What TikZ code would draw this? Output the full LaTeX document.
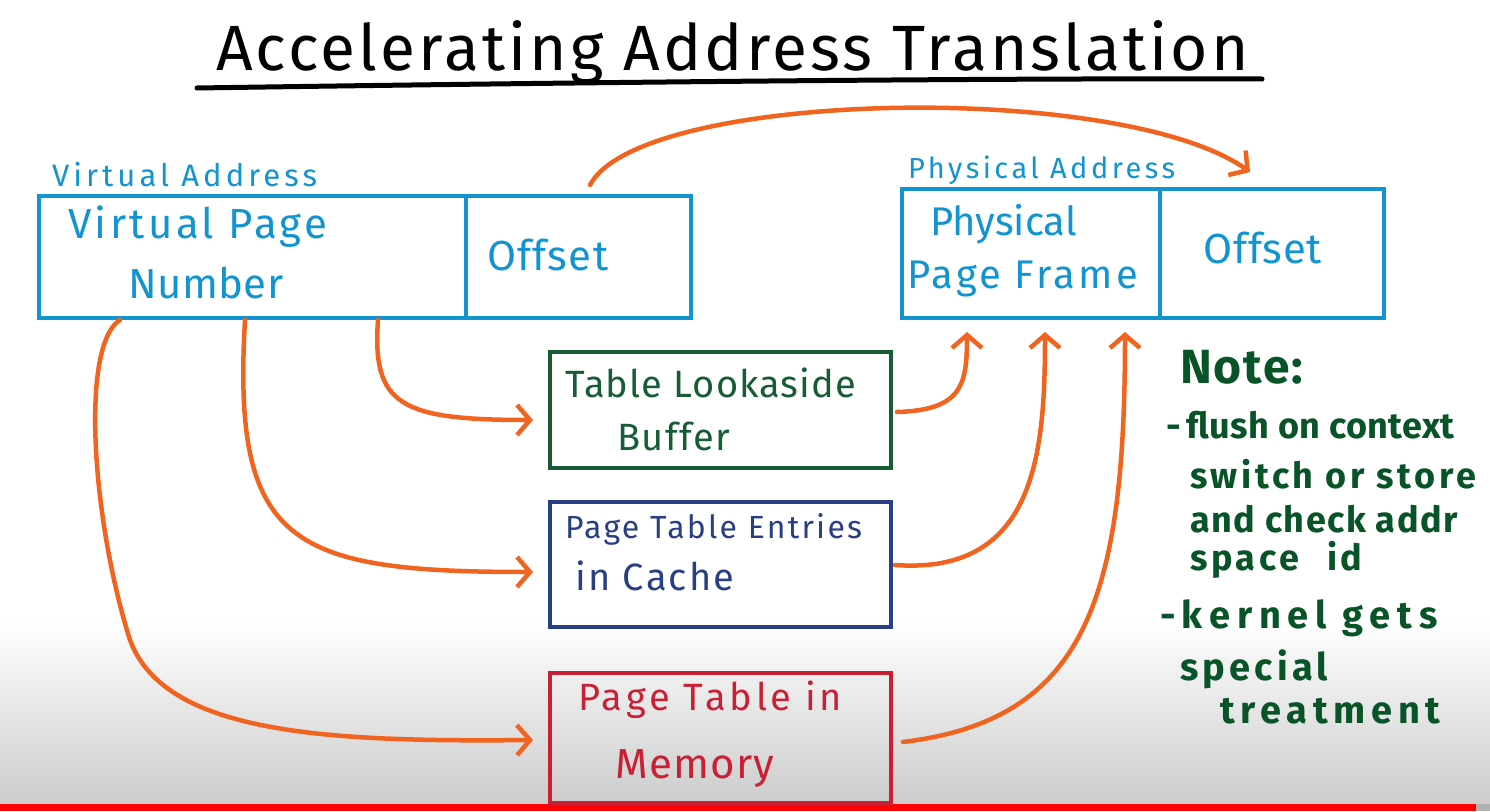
\documentclass[tikz,border=0pt]{standalone}
\usepackage{fontspec}
\setmainfont{Fira Sans}
\usetikzlibrary{arrows.meta}
\definecolor{cblue}{RGB}{18,148,208}
\definecolor{cgreen}{RGB}{22,92,52}
\definecolor{cnavy}{RGB}{42,62,132}
\definecolor{cred}{RGB}{200,32,52}
\definecolor{corange}{RGB}{240,100,32}
\definecolor{cnote}{RGB}{8,84,40}
\newcommand{\fsz}[2]{\fontsize{#1}{#1}\selectfont\addfontfeatures{LetterSpace=#2}}
\tikzset{
  arr/.style={draw=corange,line width=4.5pt,line cap=round,-{Straight Barb[length=13pt,width=30pt,line width=4.5pt]}},
  boxbase/.style={line width=4pt,inner sep=0pt,anchor=north west},
  bluebox/.style={boxbase,draw=cblue},
  txt/.style={inner sep=0pt,anchor=base west},
  notetxt/.style={txt,text=cnote,font=\bfseries},
}
\begin{document}
\begin{tikzpicture}[x=1pt,y=-1pt]
\useasboundingbox (0,0) rectangle (1490,811);
\fill[white] (0,0) rectangle (1490,811);
\shade[top color=white,bottom color=black!20] (0,620) rectangle (1490,804);
\fill[red] (0,804) rectangle (1476,811);
\fill[black!30] (1476,804) rectangle (1490,811);

% title
\node[txt] (title) at (216,70) {\fsz{64}{4.9}Accelerating Address Translation};
\coordinate (ul1) at (197,88);
\coordinate (ul2) at (1262,79);
\draw[line width=5pt,line cap=round] (ul1) .. controls (600,82) and (1000,78) .. (ul2);

% virtual address
\node[txt,text=cblue] (valab) at (52,186) {\fsz{31}{13}Virtual Address};
\node[bluebox,minimum width=652pt,minimum height=122pt] (va) at (37,194) {};
\draw[cblue,line width=4pt] (466,194) -- (466,316);
\node[txt,text=cblue] (vpn1) at (68,238) {\fsz{42}{8}Virtual Page};
\node[txt,text=cblue] (vpn2) at (128,298) {\fsz{42}{1}Number};
\node[txt,text=cblue] (voff) at (487,270) {\fsz{42}{3}Offset};

% physical address
\node[txt,text=cblue] (palab) at (908,178) {\fsz{29}{12}Physical Address};
\node[bluebox,minimum width=482pt,minimum height=129pt] (pa) at (900,187) {};
\draw[cblue,line width=4pt] (1160,187) -- (1160,316);
\node[txt,text=cblue] (ppf1) at (930,235) {\fsz{40}{0}Physical};
\node[txt,text=cblue] (ppf2) at (907,288) {\fsz{40}{8}Page Frame};
\node[txt,text=cblue] (poff) at (1203,263) {\fsz{42}{2}Offset};

% lookup boxes
\node[boxbase,draw=cgreen,minimum width=341pt,minimum height=116pt] (tlb) at (548,350) {};
\node[txt,text=cgreen] (tlb1) at (565,397) {\fsz{38}{3}Table Lookaside};
\node[txt,text=cgreen] (tlb2) at (617,450) {\fsz{38}{4}Buffer};

\node[boxbase,draw=cnavy,minimum width=341pt,minimum height=125pt] (pte) at (548,500) {};
\node[txt,text=cnavy] (pte1) at (565,538) {\fsz{32}{7}Page Table Entries};
\node[txt,text=cnavy] (pte2) at (575,590) {\fsz{38}{6}in Cache};

\node[boxbase,draw=cred,minimum width=341pt,minimum height=130pt] (ptm) at (548,671) {};
\node[txt,text=cred] (ptm1) at (578,710) {\fsz{38}{10}Page Table in};
\node[txt,text=cred] (ptm2) at (615,778) {\fsz{42}{3}Memory};

% note
\node[notetxt] (note) at (1180,383) {\fsz{48}{4}Note:};
\node[notetxt] (n1) at (1166,438) {\fsz{36}{1}-\,flush on context};
\node[notetxt] (n2) at (1190,488) {\fsz{36}{10}switch or store};
\node[notetxt] (n3) at (1190,532) {\fsz{36}{4}and check addr};
\node[notetxt] (n4) at (1190,570) {\fsz{36}{10}space\hspace{28pt}id};
\node[notetxt] (n5) at (1160,628) {\fsz{38}{18}-\,kernel gets};
\node[notetxt] (n6) at (1180,680) {\fsz{38}{11}special};
\node[notetxt] (n7) at (1220,723) {\fsz{38}{15}treatment};

% connector endpoints
\coordinate (s0) at (590,185);
\coordinate (e0) at (1250,172);
\coordinate (s1) at (378,320);
\coordinate (s2) at (245,320);
\coordinate (s3) at (120,320);
\coordinate (e1) at (533,420);
\coordinate (e2) at (533,572);
\coordinate (e3) at (533,740);
\coordinate (t1) at (897,412);
\coordinate (t2) at (895,565);
\coordinate (t3) at (903,742);
\coordinate (p1) at (967,332);
\coordinate (p2) at (1045,332);
\coordinate (p3) at (1125,332);

\draw[arr] (s0) .. controls (640,90) and (1120,80) .. (e0);
\draw[arr] (s1) .. controls (372,405) and (400,420) .. (e1);
\draw[arr] (s2) .. controls (232,545) and (290,572) .. (e2);
\draw[arr] (s3) .. controls (80,345) and (92,520) .. (130,640) .. controls (165,735) and (330,742) .. (e3);
\draw[arr] (t1) .. controls (962,410) and (967,385) .. (p1);
\draw[arr] (t2) .. controls (1035,575) and (1045,455) .. (p2);
\draw[arr] (t3) .. controls (1085,720) and (1125,600) .. (p3);
\end{tikzpicture}
\end{document}
